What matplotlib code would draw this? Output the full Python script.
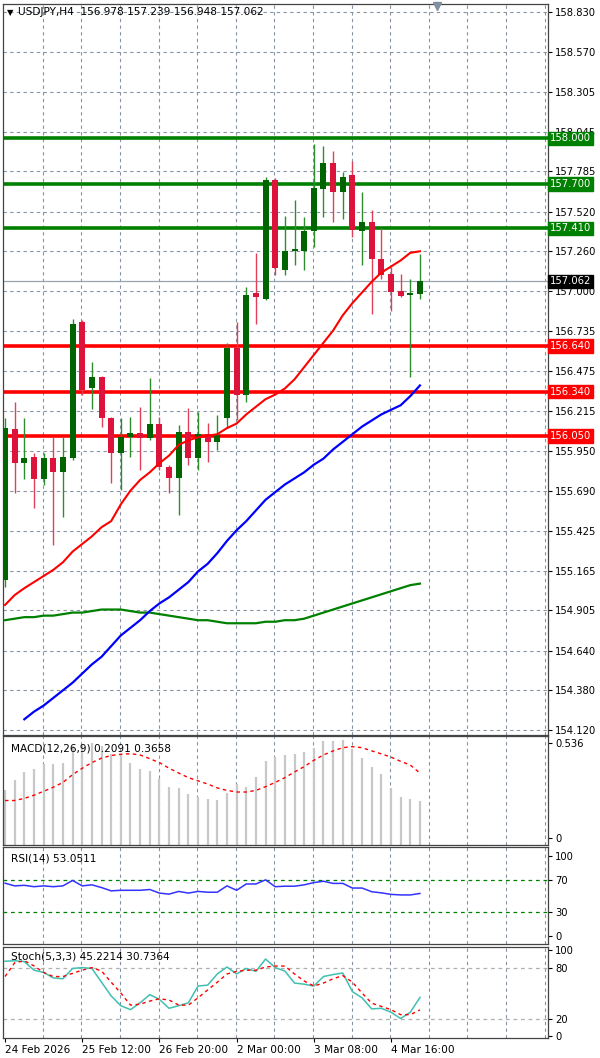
import matplotlib
matplotlib.use("Agg")
import matplotlib.pyplot as plt
import numpy as np

opens  = [155.103,156.092,155.868,155.912,155.763,155.901,155.814,155.901,156.794,156.360,156.433,156.164,155.934,156.039,156.070,156.032,156.124,155.847,155.770,156.076,155.901,156.061,156.011,156.164,156.623,156.317,156.984,156.947,157.727,157.137,157.264,157.264,157.393,157.668,157.841,157.651,157.760,157.393,157.450,157.207,157.108,156.999,156.973,156.978]
closes = [156.098,155.868,155.901,155.763,155.901,155.814,155.912,156.783,156.350,156.433,156.164,155.934,156.043,156.070,156.032,156.124,155.847,155.770,156.076,155.901,156.061,156.011,156.054,156.623,156.317,156.973,156.958,157.727,157.148,157.262,157.277,157.393,157.673,157.841,157.651,157.749,157.399,157.454,157.207,157.104,156.995,156.968,156.984,157.062]
highs  = [156.164,156.273,156.164,155.934,155.934,156.043,156.043,156.813,156.809,156.531,156.441,156.175,156.164,156.175,156.236,156.426,156.170,155.858,156.120,156.229,156.207,156.131,156.186,156.656,156.798,157.028,157.246,157.745,157.738,157.491,157.596,157.482,157.964,157.950,157.918,157.782,157.854,157.651,157.531,157.410,157.159,157.111,157.076,157.239]
lows   = [155.060,155.672,155.763,155.573,155.726,155.333,155.518,155.890,156.317,156.225,156.109,155.741,155.693,155.912,155.825,156.021,155.825,155.672,155.529,155.858,155.825,155.879,155.956,156.109,156.153,156.273,156.783,156.940,157.104,157.104,157.170,157.137,157.286,157.487,157.454,157.469,157.351,157.170,156.846,157.076,156.870,156.958,156.437,156.948]

ma_red = [154.94,155.005,155.05,155.09,155.13,155.17,155.22,155.29,155.34,155.39,155.45,155.49,155.60,155.69,155.76,155.81,155.87,155.92,155.99,156.02,156.04,156.05,156.06,156.10,156.13,156.19,156.24,156.29,156.32,156.36,156.42,156.50,156.58,156.66,156.74,156.84,156.92,156.99,157.06,157.12,157.16,157.20,157.25,157.26]
ma_blue = [np.nan,np.nan,154.19,154.24,154.28,154.33,154.38,154.43,154.49,154.55,154.60,154.67,154.74,154.79,154.84,154.90,154.95,154.99,155.04,155.09,155.16,155.21,155.28,155.36,155.43,155.49,155.56,155.63,155.68,155.73,155.77,155.81,155.86,155.90,155.96,156.01,156.06,156.11,156.15,156.19,156.22,156.25,156.31,156.38]
ma_green = [154.84,154.85,154.86,154.86,154.87,154.87,154.88,154.89,154.89,154.90,154.91,154.91,154.91,154.90,154.89,154.89,154.88,154.87,154.86,154.85,154.84,154.84,154.83,154.82,154.82,154.82,154.82,154.83,154.83,154.84,154.84,154.85,154.87,154.89,154.91,154.93,154.95,154.97,154.99,155.01,155.03,155.05,155.07,155.08]

res_levels = [158.000, 157.700, 157.410]
sup_levels = [156.640, 156.340, 156.050]
last_price = 157.062
price_ticks = [158.830,158.570,158.305,158.045,157.785,157.520,157.260,157.000,156.735,156.475,156.215,155.950,155.690,155.425,155.165,154.905,154.640,154.380,154.120]

macd_hist = [0.268,0.325,0.370,0.389,0.415,0.416,0.423,0.518,0.527,0.536,0.518,0.474,0.474,0.420,0.389,0.375,0.331,0.286,0.279,0.247,0.233,0.220,0.214,0.254,0.304,0.290,0.343,0.434,0.456,0.465,0.474,0.486,0.509,0.545,0.545,0.550,0.500,0.450,0.400,0.360,0.280,0.230,0.220,0.2091]
macd_signal = [0.211,0.211,0.223,0.241,0.263,0.286,0.313,0.357,0.393,0.425,0.450,0.465,0.472,0.475,0.468,0.447,0.425,0.393,0.366,0.340,0.322,0.304,0.282,0.268,0.259,0.259,0.268,0.289,0.313,0.340,0.372,0.402,0.438,0.468,0.491,0.509,0.515,0.509,0.491,0.474,0.456,0.432,0.411,0.3658]
rsi = [65.9,62.5,63.2,61.5,62.5,61.5,62.5,69.3,62.5,63.8,60.4,56.3,57.0,57.0,57.0,58.0,53.5,52.2,55.6,53.5,55.6,54.6,54.6,62.5,57.0,64.9,64.9,70.0,61.5,62.1,62.1,63.8,66.6,68.3,65.6,65.6,59.8,59.8,55.2,53.8,51.9,51.2,51.2,53.05]
stoch_k = [87.4,88.0,87.0,77.0,74.4,68.0,67.0,79.0,80.0,79.0,63.0,47.0,35.6,31.0,39.0,48.5,43.0,32.6,35.6,39.0,58.5,59.6,72.6,80.7,72.6,79.0,75.6,90.0,80.0,76.0,62.0,60.7,58.5,69.6,71.9,73.7,52.0,44.8,31.9,32.6,28.0,20.7,28.0,45.22]
stoch_d = [69.6,85.6,88.0,82.0,74.4,69.6,69.6,73.3,77.0,80.0,76.0,63.0,50.4,36.3,37.4,41.0,43.7,42.2,36.3,36.3,44.8,54.0,63.0,72.6,75.6,77.0,77.0,80.7,81.8,81.8,72.6,64.4,58.5,62.0,67.0,70.7,63.0,50.4,38.5,34.8,31.0,25.2,25.2,30.74]
date_labels = ["24 Feb 2026","25 Feb 12:00","26 Feb 20:00","2 Mar 00:00","3 Mar 08:00","4 Mar 16:00"]

W, H = 600, 1058
fig = plt.figure(figsize=(6, 10.58), dpi=100)
plt.rcParams['font.family'] = ['DejaVu Sans']

def rect(l, t, r, b):
    return [l / W, 1 - b / H, (r - l) / W, (b - t) / H]

n = len(opens)
x = np.arange(n)
XL = (-0.21, 56.27)
GRID = '#8593A3'
FS = 7.2

def style(ax):
    ax.set_xlim(*XL)
    for s in ax.spines.values():
        s.set_color('#444444'); s.set_linewidth(0.9)
    ax.yaxis.tick_right()
    ax.tick_params(axis='y', length=3, labelsize=FS, pad=2, colors='black', width=0.8)
    ax.tick_params(axis='x', length=0, labelbottom=False)
    for g in range(4, 57, 4):
        ax.axvline(g - 0.08, color=GRID, lw=0.8, ls=(0, (3, 3)), zorder=0)

# main
ax = fig.add_axes(rect(3, 4, 548, 735))
style(ax)
ax.set_ylim(154.087, 158.882)
ax.set_yticks(price_ticks)
ax.set_yticklabels([f"{t:.3f}" for t in price_ticks])
for t in price_ticks:
    ax.axhline(t, color=GRID, lw=0.8, ls=(0, (3, 3)), zorder=0)
ax.axhline(last_price, color='#9AA4B0', lw=0.9, zorder=1)
for lv in res_levels:
    ax.axhline(lv, color='#008000', lw=2.6, zorder=2)
    ax.text(1.004, lv, f"{lv:.3f}", transform=ax.get_yaxis_transform(), va='center', ha='left',
            fontsize=FS, color='white', zorder=10, clip_on=False,
            bbox=dict(boxstyle='square,pad=0.18', fc='#008000', ec='#008000'))
for lv in sup_levels:
    ax.axhline(lv, color='#FF0000', lw=2.6, zorder=2)
    ax.text(1.004, lv, f"{lv:.3f}", transform=ax.get_yaxis_transform(), va='center', ha='left',
            fontsize=FS, color='white', zorder=10, clip_on=False,
            bbox=dict(boxstyle='square,pad=0.18', fc='#FF0000', ec='#FF0000'))
ax.text(1.004, last_price, f"{last_price:.3f}", transform=ax.get_yaxis_transform(), va='center', ha='left',
        fontsize=FS, color='white', zorder=10, clip_on=False,
        bbox=dict(boxstyle='square,pad=0.18', fc='black', ec='black'))

ax.plot(x, ma_green, color='#008000', lw=1.6, zorder=3)
ax.plot(x, ma_blue, color='#0000FF', lw=1.6, zorder=3)
for i in range(n):
    up = closes[i] >= opens[i]
    c = '#006400' if up else '#DC143C'
    wc = '#2E8B2E' if up else '#E0405A'
    ax.vlines(x[i], lows[i], highs[i], color=wc, lw=1.0, zorder=4)
    lo, hi = min(opens[i], closes[i]), max(opens[i], closes[i])
    ax.bar(x[i], max(hi - lo, 0.006), bottom=lo, width=0.62, color=c, zorder=5, linewidth=0)
ax.plot(x, ma_red, color='#FF0000', lw=1.5, zorder=6)
ax.text(0.008, 0.994, "\u25BC", transform=ax.transAxes, fontsize=6, va='top', ha='left', color='black')
ax.text(0.028, 0.996, "USDJPY,H4  156.978 157.239 156.948 157.062", transform=ax.transAxes,
        fontsize=7.6, va='top', ha='left', color='black')
ax.plot([44.8], [158.872], marker='v', color='#8090A0', ms=6, clip_on=False, zorder=11)

# MACD
am = fig.add_axes(rect(3, 736, 548, 845))
style(am)
am.set_ylim(-0.04, 0.575)
am.set_yticks([0, 0.536]); am.set_yticklabels(['0', '0.536'])
am.axhline(-0.04, color=GRID, lw=0.8, ls=(0, (3, 3)))
am.vlines(x, -0.04, macd_hist, color='#C8C8C8', lw=1.6)
am.plot(x, macd_signal, color='#FF0000', lw=1.0, ls=(0, (2.5, 2.5)))
am.text(0.015, 0.93, "MACD(12,26,9) 0.2091 0.3658", transform=am.transAxes, fontsize=7.6, va='top', ha='left')

# RSI
ar = fig.add_axes(rect(3, 847, 548, 944))
style(ar)
ar.set_ylim(-10, 111)
ar.set_yticks([0, 30, 70, 100])
ar.axhline(70, color='#008000', lw=0.9, ls=(0, (3, 3)))
ar.axhline(30, color='#008000', lw=0.9, ls=(0, (3, 3)))
ar.plot(x, rsi, color='#3333FF', lw=1.1)
ar.text(0.015, 0.93, "RSI(14) 53.0511", transform=ar.transAxes, fontsize=7.6, va='top', ha='left')

# Stoch
ast = fig.add_axes(rect(3, 947, 548, 1038))
style(ast)
ast.set_ylim(-2, 104)
ast.set_yticks([0, 20, 80, 100])
ast.axhline(80, color='#B0B0B0', lw=0.9, ls=(0, (3, 3)))
ast.axhline(20, color='#B0B0B0', lw=0.9, ls=(0, (3, 3)))
ast.plot(x, stoch_k, color='#40C0B0', lw=1.1)
ast.plot(x, stoch_d, color='#FF0000', lw=1.0, ls=(0, (2.5, 2.5)))
ast.text(0.015, 0.95, "Stoch(5,3,3) 45.2214 30.7364", transform=ast.transAxes, fontsize=7.6, va='top', ha='left')
ast.tick_params(axis='x', length=3, labelbottom=True, labelsize=7.6, pad=2)
ast.set_xticks([0, 8, 16, 24, 32, 40])
ast.set_xticklabels(date_labels)
for lab in ast.get_xticklabels():
    lab.set_ha('left')

fig.savefig("out.png", dpi=100, facecolor='white')
